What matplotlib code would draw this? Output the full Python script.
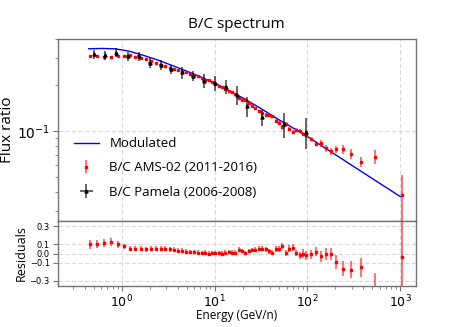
import numpy as np
import matplotlib
matplotlib.use("Agg")
import matplotlib.pyplot as plt
from matplotlib.ticker import NullFormatter, FixedLocator

# ---------------- data ----------------
model_E = [0.44, 0.6, 0.85, 1.2, 1.7, 2.5, 4, 6, 10, 20, 30, 50, 80, 100, 200, 500, 1000]
model_val = [0.345, 0.347, 0.345, 0.333, 0.313, 0.290, 0.260, 0.236, 0.206, 0.165, 0.143,
             0.118, 0.100, 0.092, 0.0701, 0.0489, 0.0373]

ams_E = [0.452, 0.546, 0.650, 0.767, 0.905, 1.050, 1.219, 1.403, 1.601, 1.827, 2.069, 2.342,
         2.630, 2.953, 3.315, 3.692, 4.077, 4.502, 4.971, 5.490, 6.063, 6.641, 7.273, 7.965,
         8.653, 9.400, 10.21, 11.09, 12.05, 13.09, 14.22, 15.44, 16.77, 18.22, 19.79, 21.49,
         23.34, 25.36, 27.55, 29.92, 32.50, 35.59, 38.66, 41.99, 45.61, 49.55, 53.82, 58.46,
         63.50, 69.54, 76.15, 82.72, 89.85, 97.6, 110.5, 124.1, 140.5, 157.8, 178.6, 203.8,
         240.5, 293.2, 379.0, 532.0, 1040.0]
ams_val = [0.3105, 0.309, 0.305, 0.303, 0.309, 0.311, 0.315, 0.306, 0.300, 0.294, 0.286, 0.279,
           0.272, 0.265, 0.259, 0.253, 0.250, 0.245, 0.242, 0.237, 0.231, 0.2275, 0.2238, 0.217,
           0.2145, 0.2089, 0.2039, 0.1985, 0.1953, 0.1886, 0.1828, 0.1798, 0.1755, 0.1657,
           0.1606, 0.1604, 0.1525, 0.1465, 0.1411, 0.1351, 0.1319, 0.1281, 0.1272, 0.1251,
           0.1161, 0.1128, 0.1059, 0.1112, 0.1028, 0.0988, 0.1011, 0.1006, 0.0958, 0.0949,
           0.0891, 0.0827, 0.0829, 0.0774, 0.0738, 0.0761, 0.0761, 0.0711, 0.0630, 0.0680,
           0.0383]
ams_err = [0.006, 0.006, 0.006, 0.006, 0.006, 0.005, 0.005, 0.005, 0.005, 0.004, 0.004, 0.004,
           0.004, 0.004, 0.004, 0.004, 0.004, 0.004, 0.003, 0.003, 0.003, 0.003, 0.003, 0.003,
           0.003, 0.003, 0.003, 0.003, 0.003, 0.003, 0.003, 0.003, 0.003, 0.003, 0.003, 0.003,
           0.003, 0.003, 0.003, 0.003, 0.003, 0.003, 0.003, 0.003, 0.003, 0.003, 0.003, 0.003,
           0.003, 0.003, 0.003, 0.003, 0.003, 0.003, 0.003, 0.003, 0.004, 0.004, 0.004, 0.004,
           0.005, 0.005, 0.005, 0.0075, 0.013]

res_val = [0.10, 0.107, 0.12, 0.125, 0.10, 0.078, 0.052, 0.055, 0.052, 0.048, 0.052, 0.052,
           0.052, 0.052, 0.048, 0.044, 0.033, 0.030, 0.022, 0.018, 0.018, 0.011, 0.004, 0.011,
           0.0, 0.004, 0.004, 0.007, 0.0, 0.011, 0.018, 0.011, 0.011, 0.044, 0.030, 0.004,
           0.026, 0.037, 0.044, 0.055, 0.052, 0.048, 0.026, 0.011, 0.052, 0.048, 0.081, 0.007,
           0.055, 0.063, 0.007, -0.018, 0.0, -0.022, -0.007, 0.022, -0.030, -0.007, -0.007,
           -0.093, -0.167, -0.178, -0.155, -0.42, -0.044]
res_err = [0.045, 0.045, 0.045, 0.045, 0.04, 0.03, 0.026, 0.026, 0.026, 0.026, 0.026, 0.026,
           0.026, 0.026, 0.026, 0.026, 0.026, 0.026, 0.024, 0.024, 0.024, 0.024, 0.024, 0.024,
           0.024, 0.024, 0.024, 0.024, 0.024, 0.024, 0.024, 0.024, 0.024, 0.024, 0.024, 0.024,
           0.024, 0.024, 0.024, 0.024, 0.026, 0.026, 0.026, 0.026, 0.03, 0.03, 0.035, 0.035,
           0.035, 0.037, 0.037, 0.04, 0.045, 0.045, 0.05, 0.055, 0.06, 0.065, 0.065, 0.075,
           0.08, 0.09, 0.11, 0.2, 0.5]

pam_E = [0.503, 0.661, 0.868, 1.155, 1.517, 1.993, 2.619, 3.40, 4.46, 5.79, 7.61, 10.0,
         13.14, 17.26, 22.4, 32.5, 56.1, 96.9]
pam_val = [0.319, 0.314, 0.325, 0.309, 0.309, 0.279, 0.270, 0.253, 0.242, 0.229, 0.213, 0.206,
           0.195, 0.172, 0.145, 0.123, 0.111, 0.099]
pam_err = [0.022, 0.022, 0.022, 0.022, 0.022, 0.02, 0.02, 0.018, 0.022, 0.018, 0.022, 0.022,
           0.021, 0.024, 0.021, 0.015, 0.021, 0.023]

res_ticks = [-0.3, -0.1, 0.0, 0.1, 0.3]

# ---------------- figure ----------------
W, H = 463, 327
fig = plt.figure(figsize=(W / 100, H / 100), dpi=100)
L, R = 57.5, 416
ax1 = fig.add_axes([L / W, 1 - 221 / H, (R - L) / W, (221 - 39) / H])
ax2 = fig.add_axes([L / W, 1 - 286 / H, (R - L) / W, (286 - 221) / H], sharex=ax1)

spine_c = '0.45'
for ax in (ax1, ax2):
    for s in ax.spines.values():
        s.set_color(spine_c)
        s.set_linewidth(1.0)
    ax.tick_params(which='both', direction='out', color=spine_c)
    ax.grid(True, which='major', ls=(0, (4, 2)), color='0.85', lw=0.8)
    ax.set_axisbelow(True)

ax1.plot(model_E, model_val, color='blue', lw=1.0, label='Modulated', zorder=3)
ax1.errorbar(ams_E, ams_val, yerr=ams_err, fmt='s', color='red', ms=2.0,
             ecolor=(1, 0, 0, 0.6), elinewidth=1.3, label='B/C AMS-02 (2011-2016)', zorder=4)
pam_xerr = [e * 0.03 for e in pam_E]
ax1.errorbar(pam_E, pam_val, yerr=pam_err, xerr=pam_xerr, fmt='^', color='black', ms=2.2,
             ecolor=(0, 0, 0, 0.7), elinewidth=1.2, label='B/C Pamela (2006-2008)', zorder=5)

ax1.set_xscale('log')
ax1.set_yscale('log')
ax1.set_xlim(0.203, 1480)
ax1.set_ylim(0.0258, 0.40)
ax1.yaxis.set_minor_formatter(NullFormatter())
ax1.tick_params(axis='x', which='both', labelbottom=False)
ax1.tick_params(axis='y', labelsize=10, pad=2)
ax1.set_ylabel('Flux ratio', family='Open Sans', fontsize=11)
ax1.yaxis.set_label_coords(-0.118, 0.5)
ax1.set_title('B/C spectrum', family='Open Sans', fontsize=11, pad=8)

leg = ax1.legend(loc='upper left', bbox_to_anchor=(0.045, 0.46), frameon=False,
                 prop={'family': 'Open Sans', 'size': 9.5}, borderpad=0, borderaxespad=0,
                 labelspacing=0.85, handlelength=1.9, handletextpad=0.8)

ax2.errorbar(ams_E, res_val, yerr=res_err, fmt='s', color='red', ms=2.0,
             ecolor=(1, 0, 0, 0.6), elinewidth=1.3, zorder=4)
ax2.set_ylim(-0.36, 0.36)
ax2.yaxis.set_major_locator(FixedLocator(res_ticks))
ax2.tick_params(axis='y', labelsize=6, pad=2)
ax2.tick_params(axis='x', labelsize=9, pad=2)
ax2.set_ylabel('Residuals', family='Open Sans', fontsize=9)
ax2.yaxis.set_label_coords(-0.082, 0.5)
ax2.set_xlabel('Energy (GeV/n)', family='Open Sans', fontsize=8.5)
ax2.xaxis.set_label_coords(0.5, -0.45)
ax2.xaxis.label.set_va('center')

fig.savefig('out.png', dpi=100, facecolor='white')
